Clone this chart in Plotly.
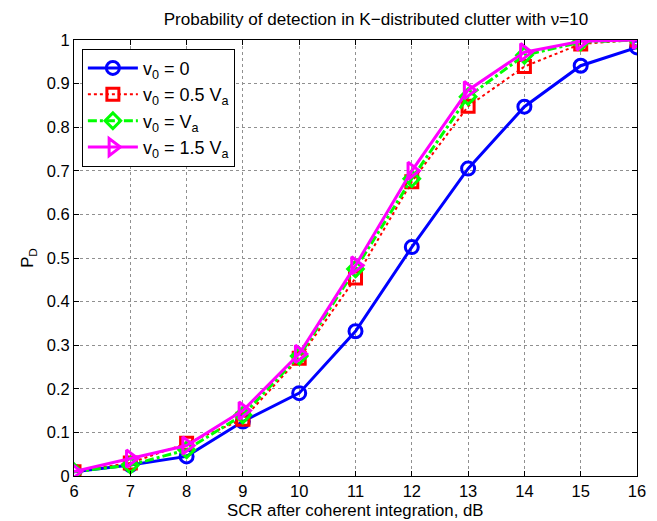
import plotly.graph_objects as go

scr_db = [6, 7, 8, 9, 10, 11, 12, 13, 14, 15, 16]
pd_v0_0 = [0.01, 0.025, 0.045, 0.125, 0.19, 0.332, 0.525, 0.705, 0.847, 0.941, 0.983]
pd_v0_05 = [0.01, 0.03, 0.075, 0.13, 0.27, 0.454, 0.675, 0.848, 0.939, 0.991, 1.0]
pd_v0_1 = [0.01, 0.025, 0.06, 0.14, 0.275, 0.475, 0.682, 0.87, 0.965, 0.995, 1.0]
pd_v0_15 = [0.01, 0.04, 0.07, 0.15, 0.28, 0.483, 0.70, 0.885, 0.972, 0.997, 1.0]

x_ticks = list(range(6, 17))
y_ticks = [i / 10 for i in range(11)]

FIG_W, FIG_H = 649, 513  # page body has an 8px margin
M_L, M_R, M_T, M_B = 66, 20, 32, 45
PLOT_H = FIG_H - M_T - M_B

fig = go.Figure()
fig.add_trace(go.Scatter(x=scr_db, y=pd_v0_0, mode="lines+markers", name="v<sub>0</sub> = 0",
                         line=dict(color="#0000ff", width=3),
                         marker=dict(symbol="circle-open", size=13, line=dict(width=3, color="#0000ff"))))
fig.add_trace(go.Scatter(x=scr_db, y=pd_v0_05, mode="lines+markers", name="v<sub>0</sub> = 0.5 V<sub>a</sub>",
                         line=dict(color="#ff0000", width=2, dash="dot"),
                         marker=dict(symbol="square-open", size=12, line=dict(width=3, color="#ff0000"))))
fig.add_trace(go.Scatter(x=scr_db, y=pd_v0_1, mode="lines+markers", name="v<sub>0</sub> = V<sub>a</sub>",
                         line=dict(color="#00ff00", width=3, dash="dashdot"),
                         marker=dict(symbol="diamond-open", size=12, line=dict(width=3, color="#00ff00"))))
fig.add_trace(go.Scatter(x=scr_db, y=pd_v0_15, mode="lines+markers", name="v<sub>0</sub> = 1.5 V<sub>a</sub>",
                         line=dict(color="#ff00ff", width=3),
                         marker=dict(symbol="triangle-right-open", size=15, line=dict(width=3, color="#ff00ff"))))

axis_common = dict(showline=True, linecolor="black", linewidth=1, mirror="ticks",
                   ticks="inside", ticklen=5, tickcolor="black", automargin=False,
                   showgrid=True, gridcolor="#909090", griddash="dot", gridwidth=1,
                   zeroline=False, tickfont=dict(size=16.5, color="black"))

fig.update_xaxes(range=[6, 16], tickvals=x_ticks, **axis_common)
fig.update_yaxes(range=[0, 1], tickvals=y_ticks, **axis_common,
                 title=dict(text="P<sub>D</sub>", font=dict(size=16.8, color="black"), standoff=8))

fig.add_annotation(text="SCR after coherent integration, dB", xref="paper", yref="paper",
                   x=0.5, y=-(502 - (M_T + PLOT_H)) / PLOT_H, xanchor="center", yanchor="middle",
                   showarrow=False, font=dict(size=16.8, color="black"))

fig.update_layout(
    width=FIG_W, height=FIG_H,
    margin=dict(l=M_L, r=M_R, t=M_T, b=M_B, autoexpand=False),
    paper_bgcolor="white", plot_bgcolor="white",
    font=dict(family="Liberation Sans, Arial, sans-serif", size=16.8, color="black"),
    title=dict(text="Probability of detection in K\u2212distributed clutter with \u03bd=10",
               x=368 / FIG_W, xanchor="center", y=1 - 11 / FIG_H, yanchor="middle",
               font=dict(size=17.1, color="black")),
    showlegend=True,
    legend=dict(x=0.014, y=0.98, xanchor="left", yanchor="top",
                bgcolor="white", bordercolor="black", borderwidth=1,
                font=dict(size=18, color="black"), tracegroupgap=0, itemwidth=50),
)

fig.write_html("out.html")
